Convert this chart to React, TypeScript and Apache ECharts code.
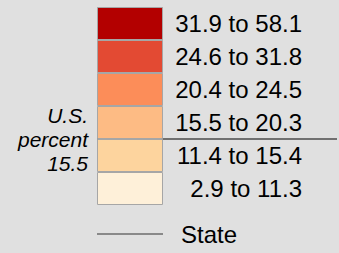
import React, { useEffect, useRef } from "react";
import * as echarts from "echarts";

const categories = ["31.9 to 58.1", "24.6 to 31.8", "20.4 to 24.5", "15.5 to 20.3", "11.4 to 15.4", "2.9 to 11.3"];
const colors = ["#b30000", "#e34a33", "#fc8d59", "#fdbb84", "#fdd49e", "#fef0d9"];
const boxValues = [1, 1, 1, 1, 1, 1];
const usLabel = ["U.S.", "percent", "15.5"];
const usBoundaryIndex = 3; // line drawn below this category
const legendName = "State";

export default function App() {
  const ref = useRef<HTMLDivElement>(null);
  useEffect(() => {
    if (!ref.current) return;
    const chart = echarts.init(ref.current, undefined, { renderer: "svg" });
    const font = "'Liberation Sans', Arial, sans-serif";
    chart.setOption({
      animation: false,
      backgroundColor: "#e0e0e0",
      grid: { left: 97, top: 7, width: 66, height: 198 },
      xAxis: { type: "value", min: 0, max: 1, show: false },
      yAxis: {
        type: "category",
        data: categories,
        inverse: true,
        position: "right",
        axisLine: { show: false },
        axisTick: { show: false },
        splitLine: { show: false },
        axisLabel: {
          align: "right",
          margin: 139,
          color: "#000",
          fontSize: 24,
          fontFamily: font,
        },
      },
      legend: {
        left: 97,
        top: 222,
        padding: 0,
        itemWidth: 66,
        itemHeight: 1,
        icon: "rect",
        itemStyle: { color: "#333" },
        data: [legendName],
        textStyle: { color: "#000", fontSize: 24, fontFamily: font, padding: [0, 0, 0, 13] },
      },
      series: [
        {
          type: "bar",
          barWidth: "100%",
          silent: true,
          data: boxValues.map((v, i) => ({
            value: v,
            itemStyle: { color: colors[i], borderColor: "#a6a6a6", borderWidth: 1 },
          })),
        },
        {
          type: "line",
          name: legendName,
          data: [],
          symbol: "none",
          color: "#000",
          lineStyle: { color: "#000", width: 1 },
        },
      ],
    });
    const y1 = chart.convertToPixel({ yAxisIndex: 0 }, usBoundaryIndex) as number;
    const y2 = chart.convertToPixel({ yAxisIndex: 0 }, usBoundaryIndex + 1) as number;
    const yLine = (y1 + y2) / 2;
    const x0 = chart.convertToPixel({ xAxisIndex: 0 }, 0) as number;
    chart.setOption({
      graphic: [
        {
          type: "line",
          shape: { x1: x0, y1: yLine, x2: 337, y2: yLine },
          style: { stroke: "#000", lineWidth: 1 },
        },
        ...usLabel.map((t, i) => ({
          type: "text",
          x: 88,
          y: yLine + (i - 1) * 24,
          style: {
            text: t,
            fill: "#000",
            fontSize: 21,
            fontStyle: "italic",
            fontFamily: font,
            align: "right",
            verticalAlign: "middle",
          },
        })),
      ],
    });
    return () => chart.dispose();
  }, []);
  return (
    <div
      ref={ref}
      style={{ position: "fixed", left: 0, top: 0, width: 339, height: 253, background: "#e0e0e0" }}
    />
  );
}
